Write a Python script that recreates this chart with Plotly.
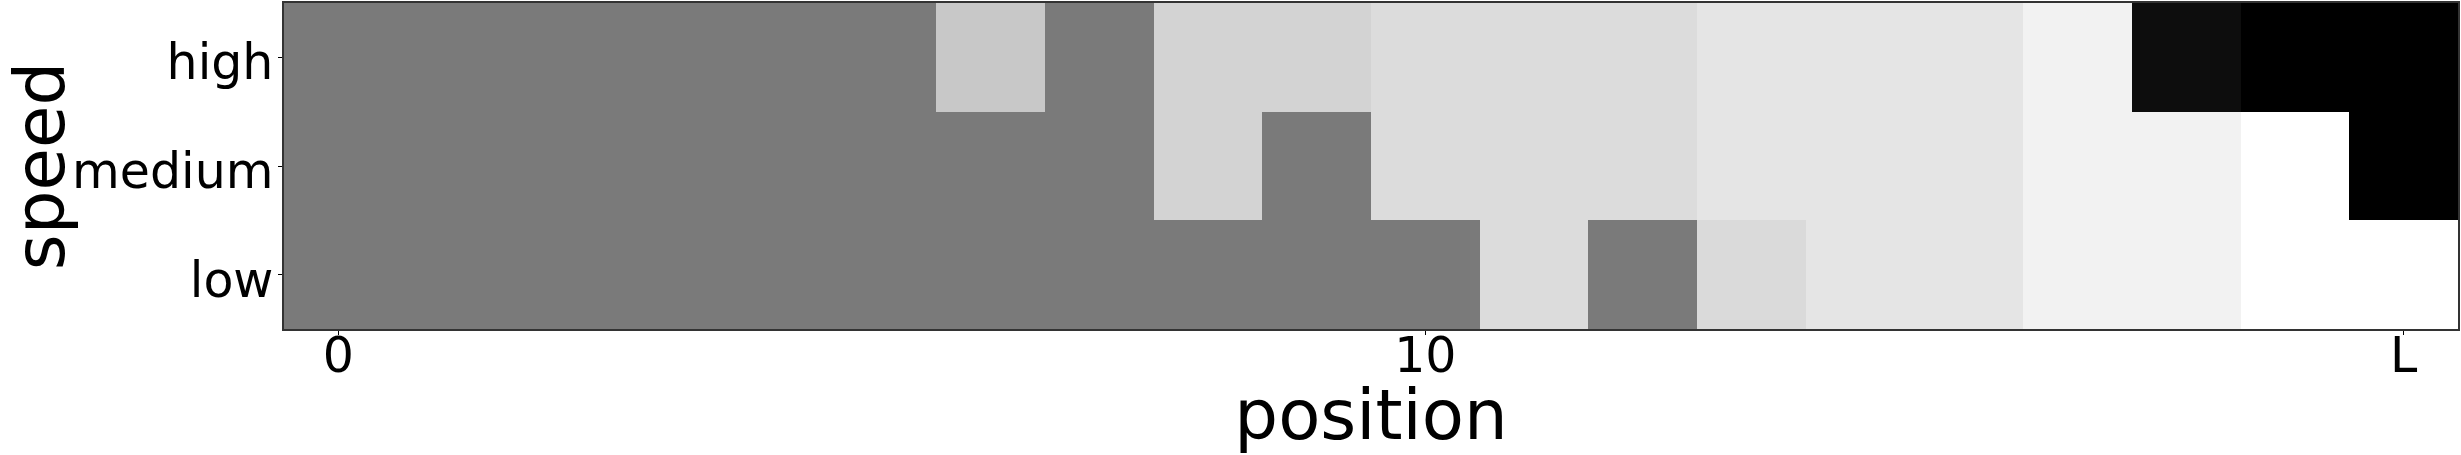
import plotly.graph_objects as go

# Data: shade value per cell (0 = white, 1 = black), rows: low, medium, high
positions = list(range(20))
speeds = ["low", "medium", "high"]
x_tick_vals = [0, 10, 19]
x_tick_text = ["0", "10", "L"]

low_vals = [0.52, 0.52, 0.52, 0.52, 0.52, 0.52, 0.52, 0.52, 0.52, 0.52,
            0.52, 0.137, 0.52, 0.145, 0.102, 0.102, 0.051, 0.051, 0.0, 0.0]
medium_vals = [0.52, 0.52, 0.52, 0.52, 0.52, 0.52, 0.52, 0.52, 0.173, 0.52,
               0.137, 0.137, 0.137, 0.102, 0.102, 0.102, 0.051, 0.051, 0.0, 1.0]
high_vals = [0.52, 0.52, 0.52, 0.52, 0.52, 0.52, 0.216, 0.52, 0.173, 0.173,
             0.137, 0.137, 0.137, 0.102, 0.102, 0.102, 0.051, 0.95, 1.0, 1.0]

fig = go.Figure(
    go.Heatmap(
        x=positions,
        y=speeds,
        z=[low_vals, medium_vals, high_vals],
        zmin=0,
        zmax=1,
        colorscale=[[0, "#ffffff"], [1, "#000000"]],
        showscale=False,
        hoverinfo="skip",
    )
)

font = "DejaVu Sans"
fig.update_layout(
    width=2461,
    height=455,
    margin=dict(l=284, r=3, t=3, b=126),
    paper_bgcolor="white",
    plot_bgcolor="white",
    font=dict(family=font, color="black"),
    xaxis=dict(
        range=[-0.5, 19.5],
        tickmode="array",
        tickvals=x_tick_vals,
        ticktext=x_tick_text,
        ticks="outside",
        ticklen=4,
        tickcolor="black",
        ticklabelstandoff=-22,
        tickfont=dict(size=49, family=font),
        showgrid=False,
        zeroline=False,
        showline=True,
        linecolor="#333333",
        linewidth=1.5,
        mirror=True,
        title=dict(text="position", font=dict(size=69, family=font), standoff=0),
        automargin=False,
    ),
    yaxis=dict(
        type="category",
        categoryorder="array",
        categoryarray=speeds,
        ticks="outside",
        ticklen=4,
        tickcolor="black",
        ticklabelstandoff=-5,
        ticklabelshift=5,
        tickfont=dict(size=49, family=font),
        showgrid=False,
        zeroline=False,
        showline=True,
        linecolor="#333333",
        linewidth=1.5,
        mirror=True,
        title=dict(text="speed", font=dict(size=69, family=font), standoff=4),
        automargin=False,
    ),
)

fig.write_html(
    "out.html",
    config={"displayModeBar": False},
    post_script="document.body.style.margin='0';document.body.style.overflow='hidden';",
)
